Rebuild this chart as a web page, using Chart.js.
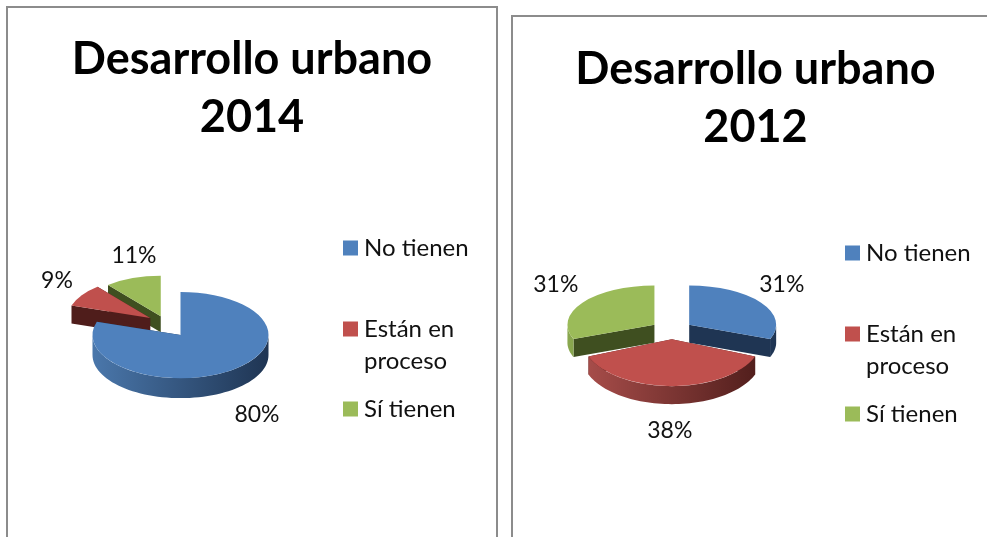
<!DOCTYPE html>
<html><head><meta charset="utf-8">
<style>
html,body{margin:0;padding:0;background:#fff;width:987px;height:537px;overflow:hidden}
.frame{position:absolute;border:2px solid #8c8c8c;box-sizing:border-box}
canvas{position:absolute;display:block}
</style>
<script src="https://cdn.jsdelivr.net/npm/chart.js@4"></script>
</head><body>
<div class="frame" style="left:6px;top:6px;width:492px;height:560px"></div>
<div class="frame" style="left:511px;top:15px;width:489px;height:560px"></div>
<canvas id="c1" width="488" height="529" style="left:8px;top:8px"></canvas>
<canvas id="c2" width="485" height="520" style="left:513px;top:17px"></canvas>
<script>
const categories = ['No tienen', 'Están en proceso', 'Sí tienen'];
const values2014 = [80, 9, 11];
const values2012 = [31, 38, 31];
const title2014 = ['Desarrollo urbano', '2014'];
const title2012 = ['Desarrollo urbano', '2012'];
const legendLines = [['No tienen'], ['Están en', 'proceso'], ['Sí tienen']];

const topColors = ['#4f81bd', '#c0504d', '#9bbb59'];
const wallDark = ['#1f3553', '#4f1d1b', '#3f4f20'];
const wallLight = ['#4a77ab', '#a94e4b', '#8aa84f'];
const FONT = 'Lato, "Open Sans", sans-serif';

const pie3d = {
  id: 'pie3d',
  beforeDatasetDraw(chart, args, o) {
    const ctx = chart.ctx, arcs = chart.getDatasetMeta(0).data;
    const pt = (a, i, ang, r) => {
      const mid = (a.startAngle + a.endAngle) / 2, off = o.explode[i];
      return [a.x + (off * Math.cos(mid) + r * Math.cos(ang)) * o.sx[i],
              a.y + o.lift[i] + (off * Math.sin(mid) + r * Math.sin(ang)) * o.sy[i]];
    };
    const wall = (a, i, ang) => {
      const p = pt(a, i, ang, 0), q = pt(a, i, ang, a.outerRadius), d = o.depth[i];
      ctx.beginPath(); ctx.moveTo(p[0], p[1]); ctx.lineTo(q[0], q[1]);
      ctx.lineTo(q[0], q[1] + d); ctx.lineTo(p[0], p[1] + d); ctx.closePath();
      ctx.fillStyle = wallDark[i]; ctx.fill();
    };
    ctx.save();
    ctx.translate(o.shiftX, 0);
    // walls, back to front
    const order = arcs.map((a, i) => i).sort((m, n) =>
      Math.sin((arcs[m].startAngle + arcs[m].endAngle) / 2) - Math.sin((arcs[n].startAngle + arcs[n].endAngle) / 2));
    order.forEach(i => {
      const a = arcs[i];
      wall(a, i, a.startAngle); wall(a, i, a.endAngle);
      // outer rim, only the part facing the viewer
      const T = Math.PI * 2;
      const s = a.startAngle, e = a.endAngle;
      [[0, Math.PI], [T, T + Math.PI], [-T, -Math.PI]].forEach(([lo, hi]) => {
        const from = Math.max(s, lo), to = Math.min(e, hi);
        if (to <= from) return;
        const steps = 60, d = o.depth[i];
        const left = pt(a, i, Math.PI, a.outerRadius)[0], right = pt(a, i, 0, a.outerRadius)[0];
        const g = ctx.createLinearGradient(left, 0, right, 0);
        g.addColorStop(0, wallLight[i]); g.addColorStop(1, wallDark[i]);
        ctx.beginPath();
        for (let k = 0; k <= steps; k++) {
          const q = pt(a, i, from + (to - from) * k / steps, a.outerRadius);
          k ? ctx.lineTo(q[0], q[1]) : ctx.moveTo(q[0], q[1]);
        }
        for (let k = steps; k >= 0; k--) {
          const q = pt(a, i, from + (to - from) * k / steps, a.outerRadius);
          ctx.lineTo(q[0], q[1] + d);
        }
        ctx.closePath(); ctx.fillStyle = g; ctx.fill();
      });
    });
    // top faces, through the library's own arc elements
    arcs.forEach((a, i) => {
      const mid = (a.startAngle + a.endAngle) / 2, off = o.explode[i];
      ctx.save();
      ctx.translate(a.x, a.y + o.lift[i]);
      ctx.scale(o.sx[i], o.sy[i]);
      ctx.translate(off * Math.cos(mid) - a.x, off * Math.sin(mid) - a.y);
      a.draw(ctx);
      ctx.restore();
    });
    // percentage labels
    const vals = chart.data.datasets[0].data;
    const total = vals.reduce((x, y) => x + y, 0);
    ctx.fillStyle = '#111'; ctx.font = o.labelSize + 'px ' + FONT;
    ctx.textAlign = 'center'; ctx.textBaseline = 'middle';
    arcs.forEach((a, i) => {
      ctx.fillText(Math.round(vals[i] / total * 100) + '%', a.x + o.labelDx[i], a.y + o.labelDy[i]);
    });
    ctx.restore();
    // legend
    ctx.textAlign = 'left'; ctx.textBaseline = 'middle';
    ctx.font = o.legendSize + 'px ' + FONT;
    o.legendRows.forEach((rows, i) => {
      ctx.fillStyle = topColors[i];
      ctx.fillRect(o.legendX, rows[0] - 7.5, 15, 15);
      ctx.fillStyle = '#111';
      legendLines[i].forEach((t, j) => ctx.fillText(t, o.legendX + 21, rows[j]));
    });
    return false;
  }
};

function build(id, values, title, titlePad, bottomPad, radius, extra) {
  return new Chart(document.getElementById(id), {
    type: 'pie',
    data: { labels: categories, datasets: [{
      data: values, backgroundColor: topColors, borderWidth: 0, radius: radius }] },
    options: {
      responsive: false, animation: false, events: [],
      layout: { padding: { bottom: bottomPad } },
      plugins: {
        legend: { display: false }, tooltip: { enabled: false },
        title: { display: true, text: title, color: '#000',
          font: { family: FONT, size: 45, weight: 'bold', lineHeight: 58 / 45 },
          padding: { top: titlePad, bottom: 0 } },
        pie3d: extra
      }
    },
    plugins: [pie3d]
  });
}

build('c1', values2014, title2014, 22, 13, 88, {
  shiftX: -71.5, explode: [0, 39, 62],
  sx: [1, 0.94, 0.94], sy: [0.49, 0.46, 0.46], lift: [0, -7, 8], depth: [20, 18, 16],
  labelSize: 23, labelDx: [76.5, -123.5, -46.5], labelDy: [80, -54, -79],
  legendSize: 24, legendX: 335, legendRows: [[240], [321, 353], [401]]
});
build('c2', values2012, title2012, 23, 33, 87, {
  shiftX: -83.7, explode: [21, 17, 21],
  sx: [1, 1.03, 1], sy: [0.45, 0.54, 0.45], lift: [0, 0, 0], depth: [18, 18, 18],
  labelSize: 23, labelDx: [110, -2, -116], labelDy: [-45, 101, -45],
  legendSize: 24, legendX: 332, legendRows: [[236], [317, 349], [397]]
});
</script>
</body></html>
